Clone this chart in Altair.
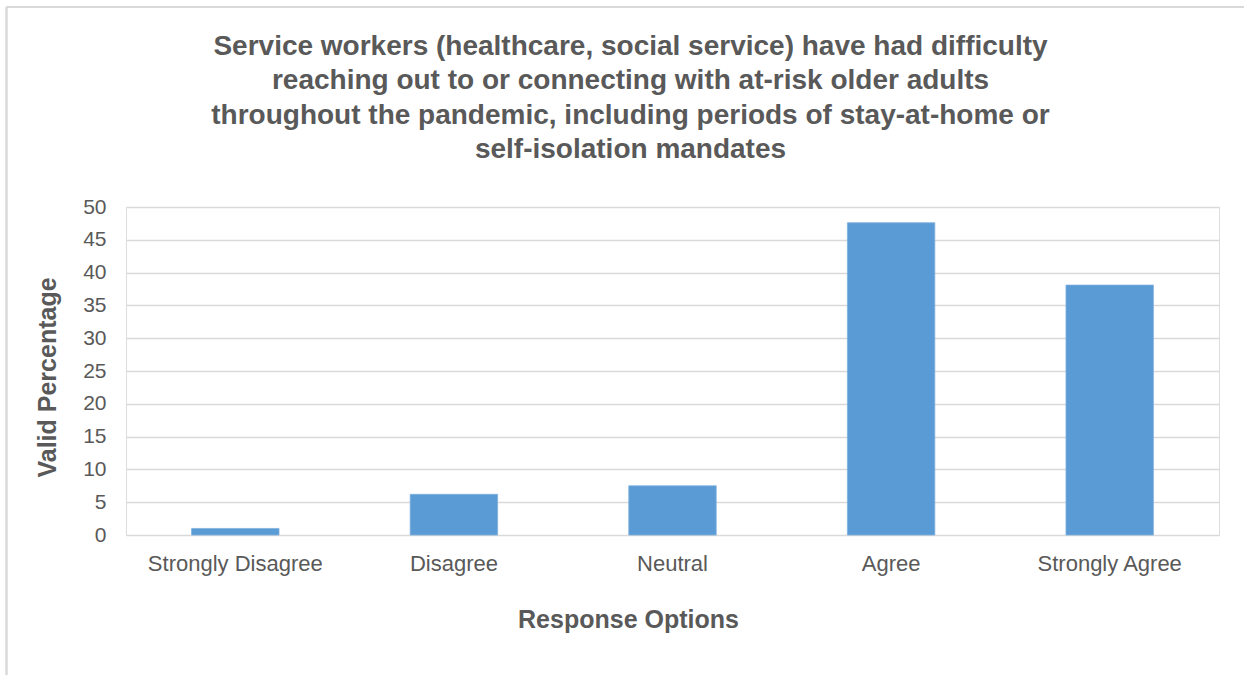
import altair as alt
import pandas as pd

# Survey responses (valid percentage per answer)
responses = ["Strongly Disagree", "Disagree", "Neutral", "Agree", "Strongly Agree"]
valid_pct = [1.0, 6.2, 7.5, 47.6, 38.1]
y_ticks = [0, 5, 10, 15, 20, 25, 30, 35, 40, 45, 50]

title_lines = [
    "Service workers (healthcare, social service) have had difficulty",
    "reaching out to or connecting with at-risk older adults",
    "throughout the pandemic, including periods of stay-at-home or",
    "self-isolation mandates",
]

df = pd.DataFrame({"Response": responses, "Pct": valid_pct})

FONT = "Liberation Sans"
TEXT = "#595959"
GRID = "#d9d9d9"

bars = (
    alt.Chart(df)
    .mark_bar(color="#5b9bd5", stroke="#7fb0de", strokeWidth=0.8)
    .encode(
        x=alt.X(
            "Response:N",
            sort=responses,
            scale=alt.Scale(paddingInner=0.6, paddingOuter=0.3),
            axis=alt.Axis(
                title="Response Options",
                labelAngle=0,
                labelFont=FONT,
                labelFontSize=22,
                labelColor=TEXT,
                labelPadding=18,
                ticks=False,
                tickSize=0,
                domain=False,
                titleFont=FONT,
                titleFontSize=25,
                titleFontWeight="bold",
                titleColor=TEXT,
                titleX=502,
                titleY=92,
                titleAnchor="start",
                titleAlign="center",
                titleBaseline="alphabetic",
            ),
        ),
        y=alt.Y(
            "Pct:Q",
            scale=alt.Scale(domain=[0, 50], nice=False),
            axis=alt.Axis(
                title="Valid Percentage",
                values=y_ticks,
                labelFont=FONT,
                labelFontSize=21,
                labelColor=TEXT,
                labelPadding=20,
                ticks=False,
                tickSize=0,
                domain=False,
                grid=True,
                gridColor=GRID,
                gridWidth=1.5,
                titleFont=FONT,
                titleFontSize=25,
                titleFontWeight="bold",
                titleColor=TEXT,
                titleAngle=-90,
                titleX=-71,
                titleY=170,
                titleAlign="center",
                titleBaseline="alphabetic",
            ),
        ),
    )
)

# Outer frame of the chart area (left and top edges)
frame_left = alt.Chart(df).mark_rule(color=GRID, strokeWidth=1.5).encode(
    x=alt.value(-119.5), y=alt.value(-200), y2=alt.value(480)
)
frame_top = alt.Chart(df).mark_rule(color=GRID, strokeWidth=1.5).encode(
    x=alt.value(-119.5), x2=alt.value(1130), y=alt.value(-200)
)

chart = (
    alt.layer(frame_left, frame_top, bars)
    .properties(
        width=1093,
        height=328,
        autosize=alt.AutoSizeParams(type="none"),
        padding={"left": 126, "top": 207, "right": 25, "bottom": 140},
        title=alt.TitleParams(
            text=title_lines,
            font=FONT,
            fontSize=28,
            fontWeight="bold",
            color=TEXT,
            anchor="middle",
            dx=-42,
            offset=0,
            dy=158,
            lineHeight=34.5,
        ),
    )
    .configure_view(stroke=None)
    .configure(background="white")
)

chart.save("out.html", embed_options={"renderer": "svg", "actions": False})
